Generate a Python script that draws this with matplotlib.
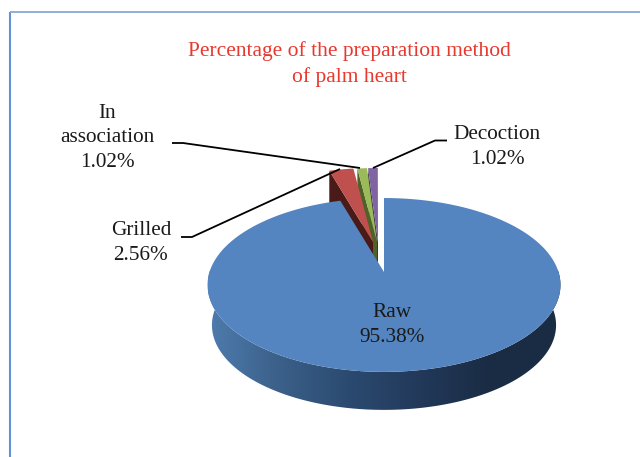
import matplotlib
matplotlib.use("Agg")
import matplotlib.pyplot as plt
import numpy as np
from matplotlib.colors import LinearSegmentedColormap
from matplotlib.patches import Polygon

labels = ["Raw", "Grilled", "In\nassociation", "Decoction"]
percents = [95.38, 2.56, 1.02, 1.02]
top_colors = ["#5585c0", "#c0504d", "#9bbb59", "#8064a2"]
wall_colors = ["#1a2c44", "#4a1a18", "#4f6228", "#3f3151"]
title = "Percentage of the preparation method\nof palm heart"

# pie geometry, in image pixels
A, B, K = 174.5, 85.0, 0.149
DEPTH = 38
apex = [(384, 272), (373, 242), (377, 242), (378, 242)]


def project(theta, cx, cy, scale=1.0):
    # theta is clockwise from 12 o'clock, slight perspective like a 3d office pie
    u, v = np.sin(theta), np.cos(theta)
    d = 1 + K * v
    return cx + scale * A * u / d, cy - scale * B * v / d


def slice_xy(t0, t1, cx, cy):
    th = np.linspace(t0, t1, 200)
    x, y = project(th, cx, cy)
    return np.r_[cx, x], np.r_[cy, y]


plt.rcParams["font.family"] = ["Liberation Serif", "DejaVu Serif"]
fig = plt.figure(figsize=(6.4, 4.57), dpi=100)
ax = fig.add_axes([0, 0, 1, 1])
ax.set_xlim(0, 640)
ax.set_ylim(457, 0)
ax.axis("off")

# frame, only left and top are in the crop
ax.plot([10, 10], [457, 12], color="#5f92d8", lw=1.5, solid_capstyle="butt")
ax.plot([10, 640], [12, 12], color="#86a8d8", lw=1.3, solid_capstyle="butt")

ends = np.cumsum(percents) / 100 * 2 * np.pi
starts = np.r_[0, ends[:-1]]
# the three small slices are seen as the exposed inner wall + top
for i in [3, 2, 1]:
    cx, cy = apex[i]
    x0, y0 = project(starts[i], cx, cy)
    ax.fill([x0, cx, cx, x0], [y0, cy, cy + DEPTH, y0 + DEPTH], color=wall_colors[i], lw=0, zorder=2)
    x, y = slice_xy(starts[i], ends[i], cx, cy)
    ax.fill(x, y, color=top_colors[i], lw=0, zorder=2)

# outer wall of the big slice with its left to right shading
cx, cy = apex[0]
shade = LinearSegmentedColormap.from_list("wall", ["#4e7cae", "#3b6089", "#2b4a70", "#22395a", "#1a2c44", "#1a2c44"])
th = np.linspace(np.pi * 0.42, np.pi * 1.58, 400)
xt, yt = project(th, cx, cy)
xb, yb = project(th, cx, cy + 40.5, 0.975)
outline = Polygon(np.c_[np.r_[xt, xb[::-1]], np.r_[yt, yb[::-1]]], closed=True, transform=ax.transData, fc="none", ec="none")
ax.add_patch(outline)
im = ax.imshow(np.linspace(0, 1, 256).reshape(1, -1), cmap=shade, extent=[208, 561, 420, 270],
               aspect="auto", zorder=3, interpolation="bilinear")
im.set_clip_path(outline)
ax.set_xlim(0, 640)
ax.set_ylim(457, 0)
x, y = slice_xy(starts[0], ends[0], cx, cy)
ax.fill(x, y, color=top_colors[0], lw=0, zorder=4)

# leader lines
lk = dict(color="black", lw=1.3, zorder=5, solid_capstyle="butt")
ax.plot([172, 183, 360], [143, 143, 168], **lk)
ax.plot([181, 192, 340], [237, 237, 169], **lk)
ax.plot([447, 435, 373], [140.5, 140.5, 168], **lk)

ax.text(349, 64, title, color="#e8392f", fontsize=15.5, ha="center", va="center", linespacing=1.42)
tk = dict(color="#1a1a1a", fontsize=15.3, ha="center", va="center", linespacing=1.42, zorder=6)
ax.text(392, 325, f"{labels[0]}\n{percents[0]:.2f}%", **tk)
ax.text(141, 243, f"{labels[1]}\n{percents[1]:.2f}%", **tk)
ax.text(107, 138, f"{labels[2]}\n{percents[2]:.2f}%", **tk)
ax.text(497, 147, f"{labels[3]}\n{percents[3]:.2f}%", **tk)

fig.savefig("out.png", dpi=100)
